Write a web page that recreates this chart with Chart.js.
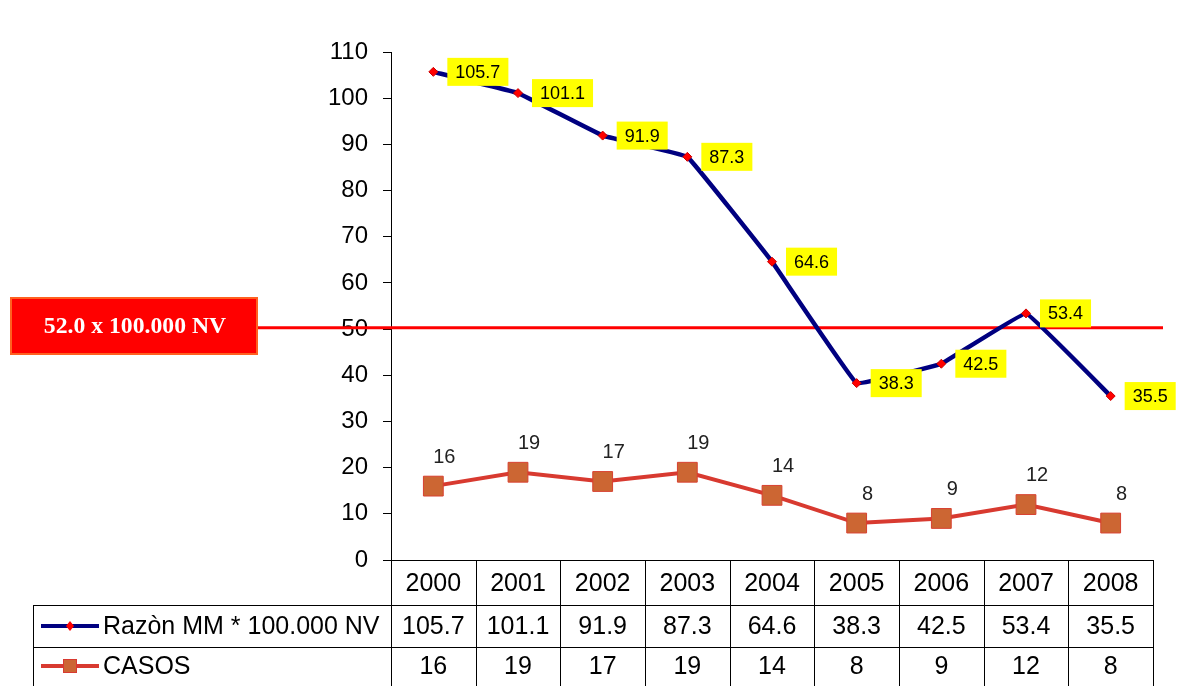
<!DOCTYPE html>
<html>
<head>
<meta charset="utf-8">
<script src="https://cdn.jsdelivr.net/npm/chart.js@4/dist/chart.umd.min.js"></script>
<style>
  html, body { margin: 0; padding: 0; background: #ffffff; }
  #wrap { width: 1181px; height: 686px; position: relative; }
</style>
</head>
<body>
<div id="wrap"><canvas id="c" width="1181" height="686"></canvas></div>
<script>
// ---- data ----
const years = ['2000', '2001', '2002', '2003', '2004', '2005', '2006', '2007', '2008'];
const razonMM = [105.7, 101.1, 91.9, 87.3, 64.6, 38.3, 42.5, 53.4, 35.5];
const casos = [16, 19, 17, 19, 14, 8, 9, 12, 8];
const razonLabel = 'Razòn MM * 100.000 NV';
const casosLabel = 'CASOS';
const refValue = 50.3;
const refText = '52.0 x 100.000 NV';
const yMin = 0, yMax = 110, yStep = 10;

const FONT = 'Arial, "Liberation Sans", sans-serif';
const NAVY = '#000080';
const RED_LINE = '#D83A30';
const ORANGE = '#CC6633';

function fmt1(v) { return v.toFixed(1); }

const overlay = {
  id: 'overlay',
  beforeDatasetsDraw(chart) {
    const ctx = chart.ctx;
    const y = chart.scales.y.getPixelForValue(refValue);
    ctx.save();
    ctx.strokeStyle = '#FF0000';
    ctx.lineWidth = 3;
    ctx.beginPath();
    ctx.moveTo(258, y);
    ctx.lineTo(1163, y);
    ctx.stroke();
    ctx.restore();
  },
  afterDatasetsDraw(chart) {
    const ctx = chart.ctx;
    const xs = chart.scales.x, ys = chart.scales.y;
    ctx.save();
    // yellow labels for razon
    ctx.font = '18px ' + FONT;
    ctx.textBaseline = 'middle';
    ctx.textAlign = 'left';
    razonMM.forEach((v, i) => {
      const px = xs.getPixelForValue(i), py = ys.getPixelForValue(v);
      const t = fmt1(v);
      const w = ctx.measureText(t).width + 16;
      const bx = px + 14, by = py - 14;
      ctx.fillStyle = '#FFFF00';
      ctx.fillRect(bx, by, w, 28);
      ctx.fillStyle = '#000000';
      ctx.fillText(t, bx + 8, py + 1);
    });
    // casos labels
    ctx.font = '20px ' + FONT;
    ctx.textAlign = 'center';
    ctx.fillStyle = '#222222';
    casos.forEach((v, i) => {
      const px = xs.getPixelForValue(i), py = ys.getPixelForValue(v);
      ctx.fillText(String(v), px + 11, py - 29);
    });
    ctx.restore();
  },
  afterDraw(chart) {
    const ctx = chart.ctx;
    const xs = chart.scales.x;
    const area = chart.chartArea;
    const L = area.left, R = area.right;
    const n = years.length;
    const cw = (R - L) / n;
    const top = area.bottom, r1 = 605, r2 = 647, bot = 690;
    const legL = 33;
    ctx.save();
    ctx.strokeStyle = '#000000';
    ctx.lineWidth = 1;
    ctx.beginPath();
    ctx.moveTo(L, top + 0.5); ctx.lineTo(R, top + 0.5);
    ctx.moveTo(legL, r1 + 0.5); ctx.lineTo(R, r1 + 0.5);
    ctx.moveTo(legL, r2 + 0.5); ctx.lineTo(R, r2 + 0.5);
    for (let i = 0; i <= n; i++) {
      const x = Math.round(L + i * cw) + 0.5;
      ctx.moveTo(x, top); ctx.lineTo(x, bot);
    }
    ctx.moveTo(legL + 0.5, r1); ctx.lineTo(legL + 0.5, bot);
    ctx.stroke();

    ctx.fillStyle = '#000000';
    ctx.font = '25px ' + FONT;
    ctx.textAlign = 'center';
    ctx.textBaseline = 'middle';
    years.forEach((yr, i) => {
      const cx = xs.getPixelForValue(i);
      ctx.fillText(yr, cx, 584);
      ctx.fillText(fmt1(razonMM[i]), cx, 627);
      ctx.fillText(String(casos[i]), cx, 667);
    });
    ctx.textAlign = 'left';
    ctx.fillText(razonLabel, 103, 627);
    ctx.fillText(casosLabel, 103, 667);

    // legend markers
    ctx.lineWidth = 4;
    ctx.strokeStyle = NAVY;
    ctx.beginPath(); ctx.moveTo(41, 626); ctx.lineTo(99, 626); ctx.stroke();
    ctx.fillStyle = '#FF0000';
    ctx.beginPath();
    ctx.moveTo(70, 621); ctx.lineTo(74, 626); ctx.lineTo(70, 631); ctx.lineTo(66, 626); ctx.closePath();
    ctx.fill();
    ctx.strokeStyle = RED_LINE;
    ctx.beginPath(); ctx.moveTo(41, 666); ctx.lineTo(99, 666); ctx.stroke();
    ctx.fillStyle = ORANGE;
    ctx.fillRect(63, 659, 14, 14);
    ctx.lineWidth = 1;
    ctx.strokeRect(63.5, 659.5, 13, 13);

    // red reference box
    ctx.fillStyle = '#FF0000';
    ctx.fillRect(10, 297, 248, 58);
    ctx.strokeStyle = '#FF6020';
    ctx.lineWidth = 2;
    ctx.strokeRect(11, 298, 246, 56);
    let fs = 24;
    ctx.font = 'bold ' + fs + 'px "Liberation Serif", "DejaVu Serif", serif';
    const w = ctx.measureText(refText).width;
    fs = fs * 182 / w;
    ctx.font = 'bold ' + fs.toFixed(1) + 'px "Liberation Serif", "DejaVu Serif", serif';
    ctx.fillStyle = '#FFFFFF';
    ctx.textAlign = 'center';
    ctx.textBaseline = 'middle';
    ctx.fillText(refText, 135, 327);
    ctx.restore();
  }
};

new Chart(document.getElementById('c'), {
  type: 'line',
  data: {
    labels: years,
    datasets: [
      {
        label: razonLabel,
        data: razonMM,
        borderColor: NAVY,
        borderWidth: 4.5,
        tension: 0.05,
        pointStyle: 'rectRot',
        pointRadius: 4.5,
        pointBackgroundColor: '#FF0000',
        pointBorderColor: '#CC0000',
        pointBorderWidth: 1
      },
      {
        label: casosLabel,
        data: casos,
        borderColor: RED_LINE,
        borderWidth: 4,
        tension: 0,
        pointStyle: 'rect',
        pointRadius: 14,
        pointBackgroundColor: ORANGE,
        pointBorderColor: '#D84030',
        pointBorderWidth: 1
      }
    ]
  },
  options: {
    responsive: false,
    animation: false,
    layout: { padding: { left: 0, right: 28, top: 52, bottom: 126 } },
    plugins: { legend: { display: false }, tooltip: { enabled: false } },
    scales: {
      x: { display: false, offset: true },
      y: {
        min: yMin, max: yMax,
        afterFit(scale) { scale.width = 391; },
        ticks: { stepSize: yStep, color: '#000000', padding: 15, font: { family: FONT, size: 24 } },
        grid: { drawOnChartArea: false, drawTicks: true, tickLength: 8, color: '#000000' },
        border: { display: true, color: '#000000', width: 1 }
      }
    }
  },
  plugins: [overlay]
});
</script>
</body>
</html>
